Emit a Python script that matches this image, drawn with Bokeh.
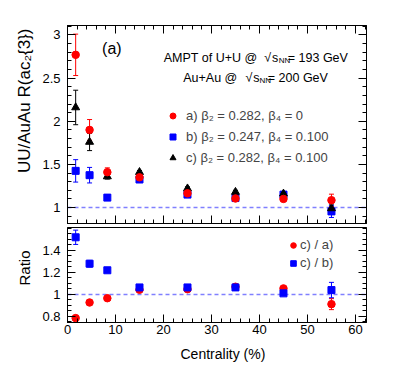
import numpy as np
from bokeh.plotting import figure
from bokeh.models import (ColumnDataSource, Whisker, Span, Label, Legend, LegendItem,
                          LinearAxis, FixedTicker, CustomJSTickFormatter, Range1d, TeeHead,
                          CustomLabelingPolicy, Title)
from bokeh.layouts import column
from bokeh.embed import file_html
from bokeh.resources import INLINE

# ---------------- data ----------------
cent = [1.7, 4.6, 8.3, 15, 25, 35, 45, 55]

a_val = [2.77, 1.90, 1.41, 1.35, 1.165, 1.105, 1.10, 1.085]
a_err = [0.24, 0.12, 0.05, 0.02, 0.02, 0.02, 0.02, 0.07]
b_val = [1.425, 1.375, 1.115, 1.325, 1.15, 1.11, 1.15, 0.955]
b_err = [0.13, 0.09, 0.03, 0.02, 0.02, 0.02, 0.03, 0.07]
c_val = [2.16, 1.76, 1.36, 1.41, 1.22, 1.18, 1.16, 0.99]
c_err = [0.20, 0.10, 0.03, 0.02, 0.02, 0.02, 0.02, 0.05]

r_ca = [0.785, 0.927, 0.966, 1.043, 1.048, 1.07, 1.055, 0.912]
r_ca_err = [0.01, 0.01, 0.01, 0.01, 0.01, 0.01, 0.01, 0.05]
r_cb = [1.52, 1.28, 1.22, 1.064, 1.064, 1.064, 1.01, 1.04]
r_cb_err = [0.065, 0.03, 0.02, 0.01, 0.01, 0.01, 0.01, 0.07]

x_ticks = [0, 10, 20, 30, 40, 50, 60]
top_y_ticks = [1, 1.5, 2, 2.5, 3]
bot_y_ticks = [0.8, 1.0, 1.2, 1.4]

labels_top = ["a) β₂ = 0.282, β₄ = 0", "b) β₂ = 0.247, β₄ = 0.100", "c) β₂ = 0.282, β₄ = 0.100"]
labels_bot = ["c) / a)", "c) / b)"]

FONT = "Liberation Sans"
RED = "#ff0000"
BLUE = "#0000ff"
BLACK = "#000000"
DASH = "#8080ff"

fmt = CustomJSTickFormatter(code="return String(Number(tick.toFixed(3)));")
hide_policy_code = """
const out = indices.clone ? indices.clone() : indices;
for (const i of Array.from(out)) { out.unset(i); }
return out;
"""


def style_axis(ax, ticks, minor, show_labels=True, standoff=2, label_size="13px"):
    ax.ticker = FixedTicker(ticks=ticks, minor_ticks=minor)
    ax.major_tick_in = 8
    ax.major_tick_out = 0
    ax.minor_tick_in = 4
    ax.minor_tick_out = 0
    ax.axis_line_color = "black"
    ax.major_tick_line_color = "black"
    ax.minor_tick_line_color = "black"
    ax.formatter = fmt
    if show_labels:
        ax.major_label_text_font = FONT
        ax.major_label_text_font_size = label_size
        ax.major_label_text_color = "black"
        ax.major_label_standoff = standoff
    else:
        ax.major_label_policy = CustomLabelingPolicy(code=hide_policy_code)
        ax.major_label_text_font_size = "1px"
        ax.major_label_standoff = 0


x_minor = list(np.arange(0, 62.5, 2))
top_minor = list(np.arange(0.9, 3.15, 0.1))
bot_minor = list(np.arange(0.75, 1.62, 0.05))

XR = (0, 62.3)


def add_label(p, x, y, text, size="12.5px", align="left"):
    p.add_layout(Label(x=x, y=y, text=text, text_font=FONT, text_font_size=size,
                       text_baseline="middle", text_align=align, text_color="black"))


def add_title(p, text, side, size, align, offset, standoff):
    p.add_layout(Title(text=text, align=align, offset=offset, standoff=standoff,
                       text_font=FONT, text_font_size=size, text_font_style="normal",
                       text_color="black"), side)


# ---------------- top panel ----------------
p1 = figure(width=391, height=227, output_backend="svg", toolbar_location=None,
            x_range=Range1d(*XR), y_range=Range1d(0.815, 3.11),
            min_border_left=67, min_border_right=25, min_border_top=25, min_border_bottom=0,
            background_fill_color="white", border_fill_color="white")
p1.grid.visible = False
p1.outline_line_color = "black"
style_axis(p1.xaxis[0], x_ticks, x_minor, show_labels=False)
style_axis(p1.yaxis[0], top_y_ticks, top_minor, standoff=7, label_size="13px")
ax_r = LinearAxis()
style_axis(ax_r, top_y_ticks, top_minor, show_labels=False)
p1.add_layout(ax_r, "right")
ax_t = LinearAxis()
style_axis(ax_t, x_ticks, x_minor, show_labels=False)
p1.add_layout(ax_t, "above")

p1.add_layout(Span(location=1, dimension="width", line_color=DASH, line_dash="4 3",
                   line_width=1.5, level="underlay"))

srcs = {}
for key, vals, errs in (("a", a_val, a_err), ("b", b_val, b_err), ("c", c_val, c_err)):
    v = np.array(vals)
    e = np.array(errs)
    srcs[key] = ColumnDataSource(dict(x=cent, y=vals, up=list(v + e), lo=list(v - e)))

for key, col in (("a", RED), ("b", BLUE), ("c", BLACK)):
    p1.add_layout(Whisker(source=srcs[key], base="x", upper="up", lower="lo",
                          line_color=col, line_width=1,
                          upper_head=TeeHead(size=5, line_color=col, line_width=1),
                          lower_head=TeeHead(size=5, line_color=col, line_width=1)))

rb = p1.scatter("x", "y", source=srcs["b"], marker="square", size=7,
                fill_color=BLUE, line_color=BLUE)
rc = p1.scatter("x", "y", source=srcs["c"], marker="triangle", size=8,
                fill_color=BLACK, line_color=BLACK)
ra = p1.scatter("x", "y", source=srcs["a"], marker="circle", size=7.5,
                fill_color=RED, line_color=RED)

leg1 = Legend(items=[LegendItem(label=labels_top[0], renderers=[ra]),
                     LegendItem(label=labels_top[1], renderers=[rb]),
                     LegendItem(label=labels_top[2], renderers=[rc])],
              location=(98, 58), padding=0, margin=0, spacing=6,
              glyph_width=15, glyph_height=15, label_height=15, label_standoff=6,
              label_text_font=FONT, label_text_font_size="13px",
              background_fill_alpha=0, border_line_alpha=0)
p1.add_layout(leg1)

add_label(p1, 7.2, 2.845, "(a)", "16px")
add_label(p1, 20.06, 2.739, "AMPT of U+U @")
add_label(p1, 41.0, 2.739, "√")
add_label(p1, 42.6, 2.739, "s")
add_label(p1, 44.0, 2.707, "NN", "8px")
add_label(p1, 45.9, 2.739, "= 193 GeV")
add_label(p1, 24.11, 2.505, "Au+Au @")
add_label(p1, 37.1, 2.505, "√")
add_label(p1, 38.7, 2.505, "s")
add_label(p1, 40.0, 2.474, "NN", "8px")
add_label(p1, 41.73, 2.505, "= 200 GeV")

# y-axis title, end aligned at the top like the original
add_title(p1, "UU/AuAu R(ac₂{3})", "left", "17px", "right", 3, 12)

# ---------------- bottom panel ----------------
p2 = figure(width=391, height=141, output_backend="svg", toolbar_location=None,
            x_range=Range1d(*XR), y_range=Range1d(0.745, 1.609),
            min_border_left=67, min_border_right=25, min_border_top=0, min_border_bottom=46,
            background_fill_color="white", border_fill_color="white")
p2.grid.visible = False
p2.outline_line_color = "black"
style_axis(p2.xaxis[0], x_ticks, x_minor, standoff=2, label_size="13px")
style_axis(p2.yaxis[0], bot_y_ticks, bot_minor, standoff=7, label_size="13px")
ax_r2 = LinearAxis()
style_axis(ax_r2, bot_y_ticks, bot_minor, show_labels=False)
p2.add_layout(ax_r2, "right")

p2.add_layout(Span(location=1, dimension="width", line_color=DASH, line_dash="4 3",
                   line_width=1.5, level="underlay"))

rsrc = {}
for key, vals, errs in (("ca", r_ca, r_ca_err), ("cb", r_cb, r_cb_err)):
    v = np.array(vals)
    e = np.array(errs)
    rsrc[key] = ColumnDataSource(dict(x=cent, y=vals, up=list(v + e), lo=list(v - e)))

for key, col in (("ca", RED), ("cb", BLUE)):
    p2.add_layout(Whisker(source=rsrc[key], base="x", upper="up", lower="lo",
                          line_color=col, line_width=1,
                          upper_head=TeeHead(size=5, line_color=col, line_width=1),
                          lower_head=TeeHead(size=5, line_color=col, line_width=1)))

rca = p2.scatter("x", "y", source=rsrc["ca"], marker="circle", size=7.5,
                 fill_color=RED, line_color=RED)
rcb = p2.scatter("x", "y", source=rsrc["cb"], marker="square", size=7,
                 fill_color=BLUE, line_color=BLUE)

leg2 = Legend(items=[LegendItem(label=labels_bot[0], renderers=[rca]),
                     LegendItem(label=labels_bot[1], renderers=[rcb])],
              location=(219, 52), padding=0, margin=0, spacing=3,
              glyph_width=14, glyph_height=14, label_height=14, label_standoff=0,
              label_text_font=FONT, label_text_font_size="13px",
              background_fill_alpha=0, border_line_alpha=0)
p2.add_layout(leg2)

add_title(p2, "Ratio", "left", "15px", "left", 37, 13)
add_title(p2, "Centrality (%)", "below", "14px", "left", 113, 14)

layout = column(p1, p2)
open("out.html", "w").write(file_html(layout, INLINE))
